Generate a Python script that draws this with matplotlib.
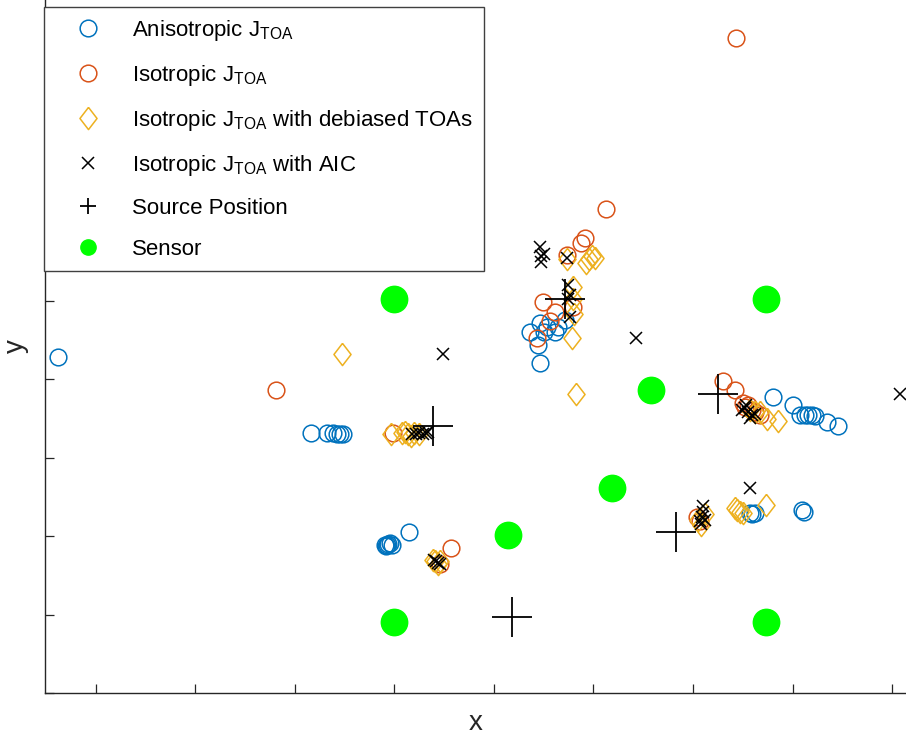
import numpy as np
import matplotlib
matplotlib.use('Agg')
import matplotlib.pyplot as plt

plt.rcParams['font.family'] = ['Liberation Sans', 'DejaVu Sans']
plt.rcParams['mathtext.fontset'] = 'custom'
plt.rcParams['mathtext.rm'] = 'Liberation Sans'
plt.rcParams['mathtext.it'] = 'Liberation Sans:italic'
plt.rcParams['mathtext.bf'] = 'Liberation Sans:bold'

# anisotropic J_TOA estimates
aniso_x = [-0.38, 2.16, 2.32, 2.38, 2.42, 2.45, 2.48,
           2.91, 2.93, 2.94, 2.96, 2.98, 2.92, 3.15,
           4.36, 4.46, 4.53, 4.61, 4.44, 4.46, 4.64, 4.71, 4.50,
           6.80, 7.00, 7.08, 7.13, 7.16, 7.20, 7.23, 7.35, 7.46,
           6.57, 6.59, 6.62, 7.10, 7.12]
aniso_y = [3.29, 2.32, 2.32, 2.32, 2.31, 2.31, 2.31,
           0.89, 0.89, 0.90, 0.91, 0.89, 0.88, 1.05,
           3.61, 3.72, 3.67, 3.61, 3.44, 3.21, 3.67, 3.76, 3.60,
           2.78, 2.68, 2.55, 2.54, 2.55, 2.54, 2.53, 2.46, 2.41,
           1.30, 1.28, 1.29, 1.34, 1.31]

# isotropic J_TOA estimates
iso_x = [1.81, 6.43, 5.13, 3.57,
         4.92, 4.87, 4.73, 4.49, 4.61, 4.56, 4.79, 4.43,
         2.99, 3.46,
         6.30, 6.42, 6.50, 6.52, 6.55, 6.59, 6.62, 6.67,
         6.04, 6.07]
iso_y = [2.87, 7.36, 5.18, 0.85,
         4.81, 4.74, 4.59, 3.99, 3.86, 3.74, 3.92, 3.53,
         2.32, 0.64,
         2.98, 2.86, 2.70, 2.65, 2.68, 2.61, 2.59, 2.54,
         1.25, 1.19]

# isotropic with debiased TOAs
deb_x = [2.47, 4.82,
         4.99, 4.96, 5.02, 4.93, 4.73, 4.79, 4.79, 4.80, 4.78,
         2.97, 3.08, 3.11, 3.14, 3.17, 3.20, 3.25,
         3.41, 3.39, 3.44, 3.46,
         6.57, 6.62, 6.67, 6.74, 6.85,
         6.05, 6.08, 6.12, 6.44, 6.47, 6.50, 6.42, 6.73]
deb_y = [3.33, 2.81,
         4.58, 4.53, 4.55, 4.49, 4.53, 4.18, 4.02, 3.83, 3.53,
         2.30, 2.32, 2.33, 2.31, 2.28, 2.32, 2.31,
         0.68, 0.70, 0.65, 0.69,
         2.61, 2.58, 2.59, 2.49, 2.47,
         1.21, 1.14, 1.28, 1.34, 1.31, 1.30, 1.36, 1.40]

# isotropic with AIC picks
aic_x = [3.49, 5.43, 8.08, 6.57,
         4.46, 4.47, 4.50, 4.47, 4.73, 4.74, 4.76, 4.74, 4.76,
         3.18, 3.22, 3.25, 3.29, 3.32, 3.34,
         3.42, 3.44, 3.40, 3.46,
         6.49, 6.52, 6.55, 6.59, 6.53, 6.57, 6.62,
         6.10, 6.10, 6.09, 6.07, 6.12, 6.08]
aic_y = [3.33, 3.53, 2.81, 1.61,
         4.69, 4.58, 4.60, 4.50, 4.55, 4.21, 4.08, 4.02, 3.79,
         2.31, 2.31, 2.32, 2.31, 2.32, 2.33,
         0.68, 0.66, 0.70, 0.65,
         2.61, 2.64, 2.59, 2.55, 2.68, 2.51, 2.56,
         1.38, 1.31, 1.25, 1.19, 1.21, 1.15]

src_x = [3.39, 4.71, 6.25, 5.83, 4.18]
src_y = [2.40, 4.02, 2.81, 1.05, -0.03]

sensor_x = [3.0, 6.73, 5.58, 5.19, 4.14, 3.0, 6.73]
sensor_y = [4.02, 4.02, 2.86, 1.62, 1.01, -0.09, -0.09]

blue = '#0072BD'
orange = '#D95319'
yellow = '#EDB120'
diamond = [(0, 1), (0.77, 0), (0, -1), (-0.77, 0), (0, 1)]

fig = plt.figure(figsize=(9.06, 7.37), dpi=100)
ax = fig.add_axes([45 / 906, (737 - 693) / 737, 861 / 906, 693 / 737])

ax.plot(aniso_x, aniso_y, 'o', ls='none', mfc='none', mec=blue, ms=12, mew=1.1,
        label='Anisotropic J$_{\\mathrm{TOA}}$')
ax.plot(iso_x, iso_y, 'o', ls='none', mfc='none', mec=orange, ms=12, mew=1.1,
        label='Isotropic J$_{\\mathrm{TOA}}$')
ax.plot(deb_x, deb_y, marker=diamond, ls='none', mfc='none', mec=yellow, ms=16, mew=1.1,
        label='Isotropic J$_{\\mathrm{TOA}}$ with debiased TOAs')
ax.plot(aic_x, aic_y, 'x', ls='none', color='black', ms=9, mew=1.1,
        label='Isotropic J$_{\\mathrm{TOA}}$ with AIC')
ax.plot(src_x, src_y, '+', ls='none', color='black', ms=29, mew=1.3,
        label='Source Position')
ax.plot(sensor_x, sensor_y, 'o', ls='none', color='#00ff00', ms=19,
        label='Sensor')

ax.set_xlim(-0.51, 8.14)
ax.set_ylim(-1, 7.84)
ax.set_xticks(np.arange(0, 9))
ax.set_yticks(np.arange(-1, 8))
ax.set_xticklabels([])
ax.set_yticklabels([])
ax.tick_params(direction='in', length=6.5, width=0.9, color='#262626')
ax.spines['top'].set_visible(False)
ax.spines['right'].set_visible(False)
for s in ['left', 'bottom']:
    ax.spines[s].set_color('#262626')
    ax.spines[s].set_linewidth(1.0)

ax.set_xlabel('x', fontsize=20, color='#262626', labelpad=9)
ax.set_ylabel('y', fontsize=20, color='#262626', labelpad=8)

leg = ax.legend(loc='upper left', bbox_to_anchor=(44 / 906, 1 - 7 / 737),
                bbox_transform=fig.transFigure, fontsize=16, frameon=True,
                fancybox=False, framealpha=1, edgecolor='#404040',
                borderpad=0.5, borderaxespad=0, handlelength=3.0,
                handletextpad=0.45, labelspacing=0.9)
leg.get_frame().set_linewidth(1.0)
for h in leg.legend_handles[4:]:
    h.set_markersize(11)

fig.savefig('out.png', dpi=100)
